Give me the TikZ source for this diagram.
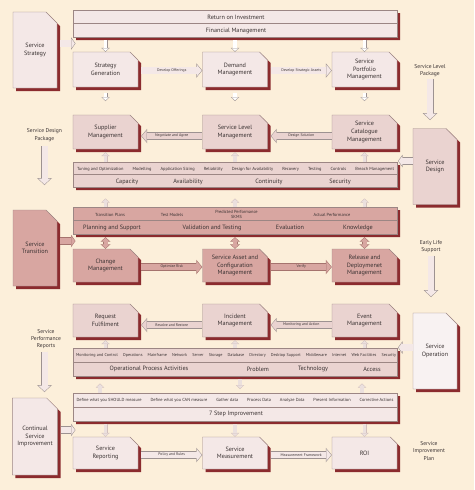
\documentclass[tikz,border=0pt]{standalone}
\usepackage{fontspec}
\setmainfont{PT Sans}
\usetikzlibrary{shapes.misc, shadows, arrows.meta}

\definecolor{paper}{HTML}{FCEFDA}
\definecolor{shadowred}{HTML}{8B2B2E}
\definecolor{boxline}{HTML}{9C8684}
\definecolor{palefill}{HTML}{F4E8E7}
\definecolor{rosefill}{HTML}{EAD3D0}
\definecolor{dustfill}{HTML}{D8A6A1}
\definecolor{whitefill}{HTML}{F8F2F2}
\definecolor{flowline}{HTML}{9D9291}
\definecolor{softline}{HTML}{D2C0BD}
\definecolor{softfill}{HTML}{EBE0DE}
\definecolor{dustline}{HTML}{A5736E}
\definecolor{ink}{HTML}{3A3232}

\newcommand{\boxfont}{\fontsize{6.2}{7.6}\selectfont}
\newcommand{\bandfont}{\fontsize{6.2}{7.4}\selectfont}
\newcommand{\cellfont}{\fontsize{4.4}{5.6}\selectfont}
\newcommand{\tagfont}{\fontsize{3.8}{4.6}\selectfont}
\newcommand{\pkgfont}{\fontsize{5.6}{7.2}\selectfont}

\tikzset{
x=1pt, y=-1pt, % one unit is one pixel, y grows downwards
stage/.style={chamfered rectangle, chamfered rectangle corners=north east,
  chamfered rectangle xsep=3.5pt, chamfered rectangle ysep=4.5pt,
  draw=boxline, line width=0.4pt, fill=#1, inner sep=0pt, text=ink,
  minimum width=65pt, minimum height=34pt, align=center, font=\boxfont,
  drop shadow={shadow xshift=3pt, shadow yshift=-3pt, fill=shadowred, opacity=1}},
stage/.default=palefill,
lifecycle/.style={stage=#1, minimum width=44pt, minimum height=76pt}, % the five book boxes
lifecycle/.default=palefill,
band/.style={stage=#1, minimum width=324pt, minimum height=27pt}, % the long two-row bars
band/.default=palefill,
cell/.style={font=\cellfont, inner sep=0pt, text=ink},
head/.style={font=\bandfont, inner sep=0pt, text=ink},
tag/.style={font=\tagfont, inner sep=0pt, text=ink},
pkg/.style={font=\pkgfont, align=center, inner sep=1pt, text=ink},
split/.style={draw=boxline, line width=0.4pt},
% hollow block arrows: an outline stroke, then a narrower fill stroke on top
tagflow/.style={draw=flowline, line width=7.5pt, -{Triangle[length=6pt, width=14.5pt, line width=0pt]},
  postaction={draw=#1, line width=6.5pt, shorten >=0.65pt, -{Triangle[length=4.85pt, width=11.7pt, line width=0pt]}}},
tagflow/.default=palefill,
bigflow/.style={draw=flowline, line width=7pt, -{Triangle[length=7pt, width=15pt, line width=0pt]},
  postaction={draw=palefill, line width=6pt, shorten >=0.68pt, -{Triangle[length=5.8pt, width=12.4pt, line width=0pt]}}},
sideflow/.style={draw=flowline, line width=7.5pt, -{Triangle[length=4.5pt, width=12.5pt, line width=0pt]},
  postaction={draw=#1, line width=6.5pt, shorten >=0.62pt, -{Triangle[length=3.4pt, width=9.4pt, line width=0pt]}}},
sideflow/.default=palefill,
tiny/.style={draw=flowline, line width=4pt, -{Triangle[length=4pt, width=8.5pt, line width=0pt]},
  postaction={draw=white, line width=3.1pt, shorten >=0.62pt, -{Triangle[length=2.9pt, width=6.2pt, line width=0pt]}}},
faint/.style={draw=softline, line width=4pt, -{Triangle[length=4pt, width=8.5pt, line width=0pt]},
  postaction={draw=softfill, line width=3.1pt, shorten >=0.62pt, -{Triangle[length=2.9pt, width=6.2pt, line width=0pt]}}},
twin/.style={draw=dustline, line width=5pt, shorten <=3pt,
  {Triangle[length=4.5pt, width=10pt, line width=0pt]}-{Triangle[length=4.5pt, width=10pt, line width=0pt]},
  postaction={draw=dustfill, line width=4pt, shorten <=3.67pt, shorten >=0.67pt,
  {Triangle[length=3.3pt, width=7.4pt, line width=0pt]}-{Triangle[length=3.3pt, width=7.4pt, line width=0pt]}}},
}

\begin{document}
\begin{tikzpicture}
\fill[paper] (0,0) rectangle (474,490);

% Service Strategy
\node[lifecycle, chamfered rectangle xsep=5pt, chamfered rectangle ysep=6pt] (strategy) at (35,50) {Service\\Strategy};
\node[band] (finbar) at (235,23.5) {};
\draw[split] (finbar.west) -- (finbar.east);
\node[head] (roinvest) at (236,17) {Return on Investment};
\node[head] (finmgmt) at (236,31) {Financial Management};
\node[stage, minimum height=35pt] (stratgen) at (105.5,69.5) {Strategy\\Generation};
\node[stage, minimum height=35pt] (demand) at (235,69.5) {Demand\\Management};
\node[stage, minimum height=35pt] (portfolio) at (364.5,69.5) {Service\\Portfolio\\Management};

% Service Design
\node[lifecycle=rosefill, chamfered rectangle xsep=5pt, chamfered rectangle ysep=6pt] (design) at (435,166.5) {Service\\Design};
\node[stage=rosefill] (supplier) at (105.5,132) {Supplier\\Management};
\node[stage=rosefill] (slm) at (235,132) {Service Level\\Management};
\node[stage=rosefill] (catalogue) at (364.5,132) {Service\\Catalogue\\Management};
\node[band=rosefill, minimum height=25pt] (designbar) at (235,174.5) {};
\draw[split] (designbar.west) -- (designbar.east);
\node[cell] (designtasks) at (235.5,169) {\makebox[317pt]{Tuning and Optimization\hfill Modelling\hfill Application Sizing\hfill Reliability\hfill Design for Availability\hfill Recovery\hfill Testing\hfill Controls\hfill Breach Management}};
\node[head] (capacity) at (127,182) {Capacity};
\node[head] (availability) at (188,182) {Availability};
\node[head] (continuity) at (269,182) {Continuity};
\node[head] (security) at (340,182) {Security};

% Service Transition
\node[lifecycle=dustfill, chamfered rectangle xsep=5pt, chamfered rectangle ysep=6pt] (transition) at (35,248) {Service\\Transition};
\node[band=dustfill] (transbar) at (235,220.5) {};
\draw[split] (transbar.west) -- (transbar.east);
\node[cell] (tplans) at (110,215) {Transition Plans};
\node[cell] (tmodels) at (172,215) {Test Models};
\node[cell, align=center, font=\fontsize{4.4}{5.4}\selectfont] (predicted) at (236.5,214.5) {Predicted Performance\\SKMS};
\node[cell] (actual) at (332,215) {Actual Performance};
\node[head] (planning) at (112,227.5) {Planning and Support};
\node[head] (validation) at (212,227.5) {Validation and Testing};
\node[head] (evaluation) at (290,227.5) {Evaluation};
\node[head] (knowledge) at (358,227.5) {Knowledge};
\node[stage=dustfill, minimum height=33pt] (change) at (105.5,265.5) {Change\\Management};
\node[stage=dustfill, minimum height=33pt] (sacm) at (235,265.5) {Service Asset and\\Configuration\\Management};
\node[stage=dustfill, minimum height=33pt] (release) at (364.5,265.5) {Release and\\Deploymenet\\Management};

% Service Operation
\node[lifecycle=whitefill, chamfered rectangle xsep=5pt, chamfered rectangle ysep=6pt] (operation) at (435,351) {Service\\Operation};
\node[stage=rosefill, minimum height=33pt] (request) at (105.5,320.5) {Request\\Fulfilment};
\node[stage=rosefill, minimum height=33pt] (incident) at (235,320.5) {Incident\\Management};
\node[stage=rosefill, minimum height=33pt] (event) at (364.5,320.5) {Event\\Management};
\node[band=rosefill, minimum height=28pt] (opsbar) at (235,362) {};
\draw[split] (opsbar.west) -- (opsbar.east);
\node[cell, font=\fontsize{4.2}{5.4}\selectfont] (opstasks) at (236,355.5) {\makebox[320pt]{Monitoring and Control\hfill Operations\hfill Mainframe\hfill Network\hfill Server\hfill Storage\hfill Database\hfill Directory\hfill Desktop Support\hfill Middleware\hfill Internet\hfill Web Facilities\hfill Security}};
\node[head] (opsactivities) at (149,369) {Operational Process Activities};
\node[head] (problem) at (258,369) {Problem};
\node[head] (technology) at (313,369) {Technology};
\node[head] (access) at (372,369) {Access};

% Continual Service Improvement
\node[lifecycle, minimum height=77pt, chamfered rectangle xsep=5pt, chamfered rectangle ysep=6pt] (csi) at (35,436.5) {Continual\\Service\\Improvement};
\node[band, minimum height=28pt] (csibar) at (235,407) {};
\draw[split] (csibar.west) -- (csibar.east);
\node[cell] (csitasks) at (235,400.5) {\makebox[317pt]{Define what you SHOULD measure\hfill Define what you CAN measure\hfill Gather data\hfill Process Data\hfill Analyze Data\hfill Present Information\hfill Corrective Actions}};
\node[head] (sevenstep) at (236,414) {7 Step Improvement};
\node[stage, minimum height=32pt] (reporting) at (105.5,453) {Service\\Reporting};
\node[stage, minimum height=32pt] (measurement) at (235,453) {Service\\Measurement};
\node[stage, minimum height=32pt] (roi) at (364.5,453) {ROI};

% package labels between the stages
\node[pkg] (slpkg) at (430,70.5) {Service Level\\Package};
\node[pkg] (sdpkg) at (44.5,135) {Service Design\\Package};
\node[pkg] (elspkg) at (431,246.5) {Early Life\\Support};
\node[pkg] (sprpkg) at (46,339) {Service\\Performance\\Reports};
\node[pkg] (sippkg) at (429,451) {Service\\Improvement\\Plan};

\coordinate (slpend) at (430,120);
\coordinate (sdpend) at (44.5,185);
\coordinate (elsend) at (431,297);
\coordinate (sprend) at (44.5,392);
\draw[bigflow, shorten <=1pt] (slpkg.south) -- (slpend);
\draw[bigflow, shorten <=4pt] (sdpkg.south) -- (sdpend);
\draw[bigflow, shorten <=2pt] (elspkg.south) -- (elsend);
\draw[bigflow, shorten <=2pt] (sprpkg.south -| sprend) -- (sprend);

% lifecycle boxes feeding their stage
\coordinate (stratin) at (75.5,43.5);
\coordinate (transin) at (75.5,241);
\coordinate (csiin) at (75.5,430);
\coordinate (designin) at (398,161);
\coordinate (opin) at (398,347.5);
\draw[sideflow, shorten <=3pt] (strategy.east |- stratin) -- (stratin);
\draw[sideflow=dustfill, draw=dustline, shorten <=3pt] (transition.east |- transin) -- (transin);
\draw[sideflow, shorten <=3pt] (csi.east |- csiin) -- (csiin);
\draw[sideflow] (design.west |- designin) -- (designin);
\draw[sideflow] (operation.west |- opin) -- (opin);

% flows between processes
\draw[tagflow] ([xshift=3pt,yshift=-1pt]stratgen.east) -- ([yshift=-1pt]demand.west) node[tag, midway]{Develop Offerings};
\draw[tagflow] ([xshift=3pt,yshift=-1pt]demand.east) -- ([yshift=-1pt]portfolio.west) node[tag, midway]{Develop Strategic Assets};
\draw[tagflow=rosefill] ([yshift=-4pt]slm.west) -- ([xshift=3pt,yshift=-4pt]supplier.east) node[tag, midway]{Negotiate and Agree};
\draw[tagflow=rosefill] ([yshift=-4pt]catalogue.west) -- ([xshift=3pt,yshift=-4pt]slm.east) node[tag, midway]{Design Solution};
\draw[tagflow=dustfill, draw=dustline] ([xshift=3pt,yshift=-1.5pt]change.east) -- ([yshift=-1.5pt]sacm.west) node[tag, midway]{Optimize Risk};
\draw[tagflow=dustfill, draw=dustline] ([xshift=3pt,yshift=-1.5pt]sacm.east) -- ([yshift=-1.5pt]release.west) node[tag, midway]{Verify};
\draw[tagflow=rosefill] ([yshift=-4.5pt]incident.west) -- ([xshift=3pt,yshift=-4.5pt]request.east) node[tag, midway]{Resolve and Restore};
\draw[tagflow=rosefill] ([yshift=-4.5pt]event.west) -- ([xshift=3pt,yshift=-4.5pt]incident.east) node[tag, midway]{Monitoring and Action};
\draw[tagflow] ([xshift=3pt,yshift=-2pt]reporting.east) -- ([yshift=-2pt]measurement.west) node[tag, midway]{Policy and Rules};
\draw[tagflow] ([xshift=3pt,yshift=-2pt]measurement.east) -- ([yshift=-2pt]roi.west) node[tag, midway]{Measurement Framework};

% short links between bars and boxes
\coordinate (sgdrop) at (105.5,101);
\coordinate (dmdrop) at (235,101);
\coordinate (pfdrop) at (364.5,101);
\draw[tiny, shorten <=3pt] (stratgen.north |- finbar.south) -- (stratgen.north);
\draw[tiny, shorten <=3pt] (demand.north |- finbar.south) -- (demand.north);
\draw[tiny, shorten <=3pt] (portfolio.north |- finbar.south) -- (portfolio.north);
\draw[tiny, shorten <=6pt] (stratgen.south) -- (sgdrop);
\draw[tiny, shorten <=6pt] (demand.south) -- (dmdrop);
\draw[tiny, shorten <=6pt] (portfolio.south) -- (pfdrop);

\draw[faint] (supplier.south |- designbar.north) -- ([yshift=-3pt]supplier.south);
\draw[faint] (slm.south |- designbar.north) -- ([yshift=-3pt]slm.south);
\draw[faint] (catalogue.south |- designbar.north) -- ([yshift=-3pt]catalogue.south);

\coordinate (sprise) at (105.5,198.5);
\coordinate (slrise) at (235,198.5);
\coordinate (scrise) at (364.5,198.5);
\draw[faint] (sprise |- transbar.north) -- (sprise);
\draw[faint] (slrise |- transbar.north) -- (slrise);
\draw[faint] (scrise |- transbar.north) -- (scrise);

\draw[twin] (change.north |- transbar.south) -- (change.north);
\draw[twin] (sacm.north |- transbar.south) -- (sacm.north);
\draw[twin] (release.north |- transbar.south) -- (release.north);

\draw[faint] (request.south |- opsbar.north) -- ([yshift=-3pt]request.south);
\draw[faint] (incident.south |- opsbar.north) -- ([yshift=-3pt]incident.south);
\draw[faint] (event.south |- opsbar.north) -- ([yshift=-3pt]event.south);

\coordinate (leftrise) at (100,383.5);
\coordinate (middrop) at (240,389);
\coordinate (rightrise) at (362,383.5);
\draw[faint] (leftrise |- csibar.north) -- (leftrise);
\draw[faint, shorten <=3pt] (middrop |- opsbar.south) -- (middrop);
\draw[faint] (rightrise |- csibar.north) -- (rightrise);

\draw[faint, shorten <=3pt] (reporting.north |- csibar.south) -- (reporting.north);
\draw[faint, shorten <=3pt] (measurement.north |- csibar.south) -- (measurement.north);
\draw[faint, shorten <=3pt] (roi.north |- csibar.south) -- (roi.north);
\end{tikzpicture}
\end{document}
